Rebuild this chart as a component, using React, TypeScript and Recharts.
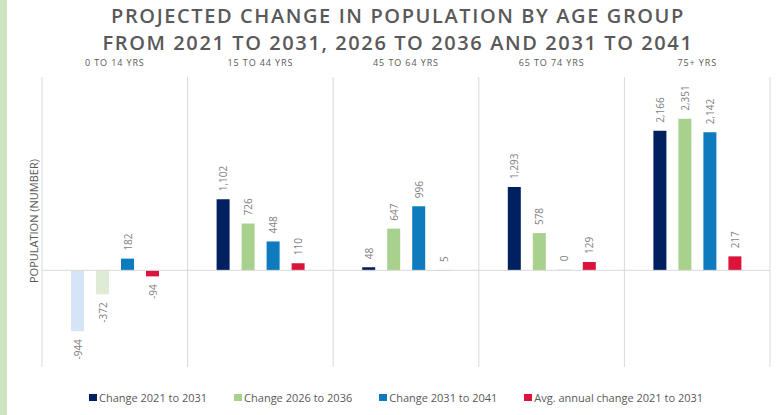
import React from 'react';
import { BarChart, Bar, XAxis, YAxis, CartesianGrid, ReferenceLine, LabelList, Cell } from 'recharts';

const categories = ['0 TO 14 YRS', '15 TO 44 YRS', '45 TO 64 YRS', '65 TO 74 YRS', '75+ YRS'];
const change2021to2031 = [-944, 1102, 48, 1293, 2166];
const change2026to2036 = [-372, 726, 647, 578, 2351];
const change2031to2041 = [182, 448, 996, 0, 2142];
const avgAnnual2021to2031 = [-94, 110, 5, 129, 217];

const seriesKeys = ['c2131', 'c2636', 'c3141', 'avg'];
const seriesNames = ['Change 2021 to 2031', 'Change 2026 to 2036', 'Change 2031 to 2041', 'Avg. annual change 2021 to 2031'];
const seriesValues = [change2021to2031, change2026to2036, change2031to2041, avgAnnual2021to2031];
const seriesColors = ['#002060', '#a9d18e', '#0e7bbf', '#dc143c'];
const negativeColors = ['#d6e4f8', '#deebd5', '#d3e6f5', '#dc143c'];
const yDomain: [number, number] = [-1500, 3000];

const titleLines = ['PROJECTED CHANGE IN POPULATION BY AGE GROUP', 'FROM 2021 TO 2031, 2026 TO 2036 AND 2031 TO 2041'];
const yAxisTitle = 'POPULATION (NUMBER)';

const data = categories.map((group, i) => {
  const row: any = { group };
  seriesKeys.forEach((k, s) => { row[k] = seriesValues[s][i]; });
  return row;
});

const FONT = '"Open Sans", "DejaVu Sans", sans-serif';
const TEXT = '#595959';

const renderValueLabel = (props: any) => {
  const vb = props.viewBox || {};
  const bx = Number(vb.x ?? props.x);
  const by = Number(vb.y ?? props.y);
  const bw = Number(vb.width ?? props.width);
  const bh = Number(vb.height ?? props.height);
  const value = Number(props.value);
  const cx = bx + bw / 2 + 4;
  const top = Math.min(by, by + bh);
  const bottom = Math.max(by, by + bh);
  const text = value.toLocaleString('en-US');
  if (value < 0) {
    return (
      <text transform={`translate(${cx},${bottom + 8}) rotate(-90)`} textAnchor="end" fontSize={10} fill="#7f7f7f" fontFamily={FONT}>{text}</text>
    );
  }
  return (
    <text transform={`translate(${cx},${top - 8}) rotate(-90)`} textAnchor="start" fontSize={10} fill="#7f7f7f" fontFamily={FONT}>{text}</text>
  );
};

const CategoryTick = (props: any) => {
  const { x, y, payload } = props;
  return (
    <text x={x} y={y} dy={-3} textAnchor="middle" fontSize={9} letterSpacing={0.9} fill={TEXT} fontFamily={FONT}>{payload.value}</text>
  );
};

const zeroPointSize = (value: any) => (Number(value) === 0 ? 1 : 0);

export default function App() {
  return (
    <div style={{ position: 'absolute', left: 0, top: 0, width: 776, height: 415, background: '#fff', overflow: 'hidden' }}>
      <div style={{ position: 'absolute', left: 0, top: 0, width: 7, height: 415, background: '#cde4c3' }} />
      <BarChart
        width={776}
        height={415}
        data={data}
        margin={{ top: 47, right: 6, bottom: 48, left: 42 }}
        barSize={13}
        barGap={12}
      >
        <CartesianGrid
          horizontal={false}
          vertical={true}
          stroke="#d9d9d9"
          verticalCoordinatesGenerator={({ offset }: any) =>
            Array.from({ length: categories.length + 1 }, (_, i) => offset.left + (offset.width * i) / categories.length)
          }
        />
        <XAxis dataKey="group" orientation="top" axisLine={false} tickLine={false} height={30} interval={0} tick={<CategoryTick />} />
        <YAxis hide domain={yDomain} type="number" />
        <ReferenceLine y={0} stroke="#d9d9d9" strokeWidth={1} />
        {seriesKeys.map((k, s) => (
          <Bar key={k} dataKey={k} name={seriesNames[s]} fill={seriesColors[s]} minPointSize={zeroPointSize} isAnimationActive={false}>
            {data.map((row: any, i: number) => (
              <Cell key={i} fill={row[k] <= 0 ? negativeColors[s] : seriesColors[s]} />
            ))}
            <LabelList dataKey={k} content={renderValueLabel} />
          </Bar>
        ))}
      </BarChart>
      <div style={{ position: 'absolute', left: 0, top: 2, width: 796, textAlign: 'center', fontFamily: FONT, fontWeight: 600, fontSize: 20, lineHeight: '27px', letterSpacing: 1.6, color: TEXT }}>
        {titleLines.map((t) => (<div key={t}>{t}</div>))}
      </div>
      <svg width={776} height={415} style={{ position: 'absolute', left: 0, top: 0, pointerEvents: 'none' }}>
        <text transform="translate(37.5,221) rotate(-90)" textAnchor="middle" fontSize={11} fill={TEXT} fontFamily={FONT}>{yAxisTitle}</text>
      </svg>
      <div style={{ position: 'absolute', left: 89, top: 389, height: 16, display: 'flex', alignItems: 'center', gap: 27, fontFamily: FONT, fontSize: 11, color: TEXT, whiteSpace: 'nowrap' }}>
        {seriesNames.map((n, s) => (
          <div key={n} style={{ display: 'flex', alignItems: 'center' }}>
            <span style={{ display: 'inline-block', width: 8, height: 7, background: seriesColors[s], marginRight: 2 }} />
            <span>{n}</span>
          </div>
        ))}
      </div>
    </div>
  );
}
